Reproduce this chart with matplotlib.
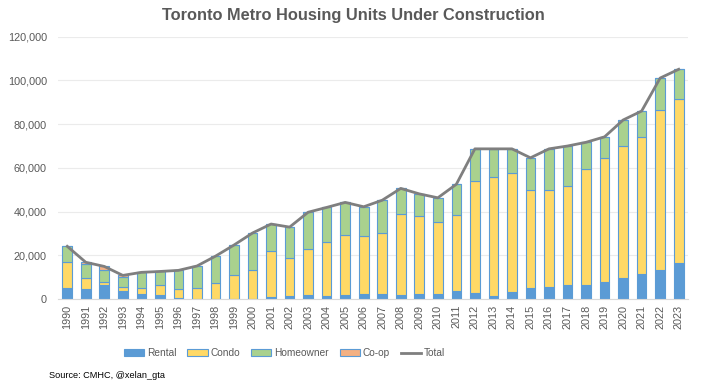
import numpy as np
import matplotlib.pyplot as plt
from matplotlib.ticker import FuncFormatter

years = [str(y) for y in range(1990, 2024)]

# values, in units
rental = [5200, 4700, 6500, 3800, 2400, 2000, 500, 150, 100, 100,
          100, 1100, 1500, 1800, 1500, 1800, 2400, 2400, 2000, 2400,
          2400, 3800, 2900, 1500, 3400, 5200, 5600, 6500, 6500, 7900,
          9700, 11600, 13400, 16600]
condo = [11550, 4900, 1300, 1800, 2800, 4400, 4100, 5050, 7200, 10900,
         13100, 20800, 17200, 21000, 24500, 27400, 26200, 27800, 36800, 35500,
         32800, 34600, 51000, 54200, 54200, 44600, 44200, 45100, 52900, 56500,
         60200, 62400, 72900, 74800]
homeowner = [7350, 6200, 5600, 4400, 7000, 6200, 8500, 9900, 12300, 13700,
             17000, 12400, 14200, 16900, 15900, 15000, 13600, 15000, 11800, 10200,
             11100, 14100, 14800, 13000, 11100, 14800, 18900, 18400, 12300, 9800,
             12000, 12000, 14800, 13700]
coop = [0, 1000, 1500, 800, 0, 0, 0, 0, 0, 0,
        0, 0, 0, 0, 0, 0, 0, 0, 0, 0,
        0, 0, 0, 0, 0, 0, 0, 0, 0, 0,
        0, 0, 0, 0]
total = [24100, 16800, 14900, 10800, 12200, 12600, 13100, 15100, 19600, 24700,
         30200, 34300, 32900, 39700, 41900, 44200, 42200, 45200, 50600, 48100,
         46300, 52500, 68700, 68700, 68700, 64600, 68700, 70000, 71700, 74200,
         81900, 86000, 101100, 105100]

plt.rcParams['font.family'] = ['Liberation Sans', 'DejaVu Sans']

fig = plt.figure(figsize=(7.02, 3.83), dpi=100)
ax = fig.add_axes([0.0826, 0.2193, 0.8974, 0.6848])

x = np.arange(len(years))
w = 0.52
edge = '#5B9BD5'
b1 = ax.bar(x, rental, w, color='#5B9BD5', edgecolor=edge, linewidth=0.8, label='Rental', zorder=2)
b2 = ax.bar(x, condo, w, bottom=rental, color='#FFD966', edgecolor=edge, linewidth=0.8, label='Condo', zorder=2)
bot = np.array(rental) + np.array(condo)
b3 = ax.bar(x, homeowner, w, bottom=bot, color='#A9D18E', edgecolor=edge, linewidth=0.8, label='Homeowner', zorder=2)
bot = bot + np.array(homeowner)
b4 = ax.bar(x, coop, w, bottom=bot, color='#F4B183', edgecolor=edge, linewidth=0.8, label='Co-op', zorder=2)
ln, = ax.plot(x, total, color='#7F7F7F', linewidth=2, label='Total', zorder=3)

ax.set_xlim(-0.5, len(years) - 0.5)
ax.set_ylim(0, 120000)
ax.set_yticks(range(0, 120001, 20000))
ax.yaxis.set_major_formatter(FuncFormatter(lambda v, p: f'{int(v):,}'))
ax.set_xticks(x)
ax.set_xticklabels(years, rotation=90)
ax.tick_params(axis='both', length=0, labelsize=7.8, colors='#595959')
ax.tick_params(axis='y', pad=8)
ax.tick_params(axis='x', pad=4)
ax.grid(axis='y', color='#EBEBEB', linewidth=0.8, zorder=0)
for s in ['top', 'right', 'left']:
    ax.spines[s].set_visible(False)
ax.spines['bottom'].set_color('#D9D9D9')

fig.text(0.503, 0.96, 'Toronto Metro Housing Units Under Construction', ha='center', va='center',
         fontsize=11.8, fontweight='bold', color='#595959')

fig.legend(handles=[b1, b2, b3, b4, ln], loc='center', bbox_to_anchor=(0.405, 0.078), ncol=5,
           frameon=False, fontsize=7.3, handlelength=2.0, handleheight=0.75, columnspacing=1.1,
           handletextpad=0.25, labelcolor='#595959')

fig.text(0.07, 0.02, 'Source: CMHC, @xelan_gta', fontsize=6.6, color='black', va='center')

fig.savefig('out.png', dpi=100)
